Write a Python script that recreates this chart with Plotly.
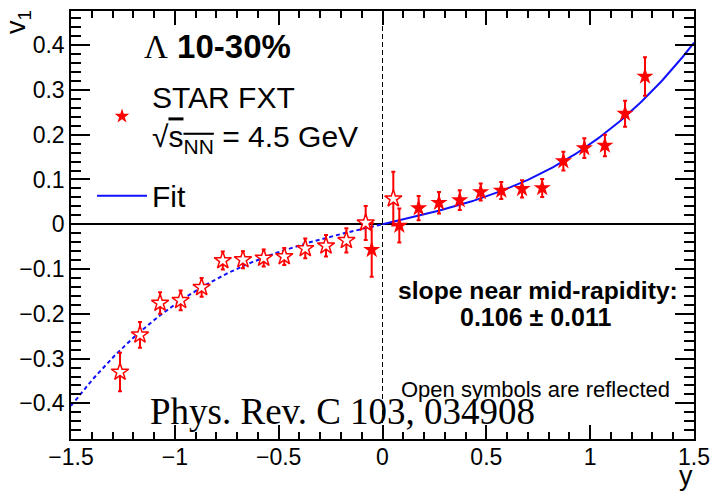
import numpy as np
import plotly.graph_objects as go

# ---- data ----
y_meas = [-0.052, 0.081, 0.174, 0.272, 0.372, 0.473, 0.572, 0.672, 0.769,
          0.871, 0.972, 1.071, 1.168, 1.264]
v1_meas = [-0.057, -0.003, 0.036, 0.048, 0.054, 0.072, 0.0755, 0.079, 0.081,
           0.141, 0.170, 0.176, 0.247, 0.330]
v1_err = [0.060, 0.038, 0.027, 0.024, 0.022, 0.019, 0.019, 0.019, 0.020,
          0.021, 0.022, 0.024, 0.029, 0.043]

# reflected ("open") symbols: y -> -y, v1 -> -v1
y_refl = [-v for v in y_meas]
v1_refl = [-v for v in v1_meas]

# fit: v1 = a*y + b*y^3
fit_a = 0.106
fit_b = 0.073
fit_y_neg = np.linspace(-1.5, 0.0, 151)
fit_y_pos = np.linspace(0.0, 1.5, 151)
fit_v_neg = fit_a * fit_y_neg + fit_b * fit_y_neg ** 3
fit_v_pos = fit_a * fit_y_pos + fit_b * fit_y_pos ** 3

x_ticks = [-1.5, -1, -0.5, 0, 0.5, 1, 1.5]
x_ticklabels = ["\u22121.5", "\u22121", "\u22120.5", "0", "0.5", "1", "1.5"]

FONT = "Liberation Sans, Arial, Helvetica, sans-serif"
RED = "#ff0000"
BLUE = "#1010ff"

# plot-area geometry in pixels
W, H = 721, 498
L, R, T, B = 71, 27, 9, 59
PW, PH = W - L - R, H - T - B


def px(xp):
    return (xp - L) / PW


def py(yp):
    return (H - B - yp) / PH


fig = go.Figure()

fig.add_trace(go.Scatter(
    x=fit_y_neg, y=fit_v_neg, mode="lines",
    line=dict(color=BLUE, width=2, dash="4px,3px"),
    showlegend=False, hoverinfo="skip"))
fig.add_trace(go.Scatter(
    x=fit_y_pos, y=fit_v_pos, mode="lines", name="Fit",
    line=dict(color=BLUE, width=2),
    legendgroup="fit", legendrank=2))

fig.add_trace(go.Scatter(
    x=y_refl, y=v1_refl, mode="markers",
    marker=dict(symbol="star", size=13, color="white",
                line=dict(color=RED, width=1.5)),
    error_y=dict(type="data", array=v1_err, color=RED, thickness=2, width=2),
    showlegend=False))
fig.add_trace(go.Scatter(
    x=y_meas, y=v1_meas, mode="markers",
    marker=dict(symbol="star", size=13, color=RED, line=dict(width=0)),
    error_y=dict(type="data", array=v1_err, color=RED, thickness=2, width=2),
    showlegend=False))

# legend entry for the data
fig.add_trace(go.Scatter(
    x=[None], y=[None], mode="markers",
    name="STAR FXT<br>\u221a<span style=\"text-decoration:overline\">s<sub>NN</sub></span> = 4.5 GeV",
    marker=dict(symbol="star", size=11, color=RED, line=dict(width=0)),
    legendgroup="data", legendrank=1))

axis_common = dict(
    showline=True, linecolor="black", linewidth=1.5, mirror="allticks",
    ticks="inside", tickcolor="black", tickwidth=1.5,
    showgrid=False,
    tickfont=dict(family=FONT, size=23, color="black"),
)

fig.update_layout(
    width=W, height=H,
    margin=dict(l=L, r=R, t=T, b=B),
    paper_bgcolor="white", plot_bgcolor="white",
    font=dict(family=FONT, color="black"),
    xaxis=dict(
        range=[-1.5, 1.5], tickvals=x_ticks, ticktext=x_ticklabels,
        ticklen=14, zeroline=False, ticklabelstandoff=-3,
        minor=dict(dtick=0.1, tick0=0, ticklen=7, ticks="inside",
                   tickcolor="black", tickwidth=1.5),
        **axis_common),
    yaxis=dict(
        range=[-0.4795, 0.4762], dtick=0.1, tick0=0, ticklen=19,
        zeroline=True, zerolinecolor="black", zerolinewidth=2,
        minor=dict(dtick=0.02, tick0=0, ticklen=10, ticks="inside",
                   tickcolor="black", tickwidth=1.5),
        **axis_common),
    legend=dict(
        x=px(92), y=py(69), xanchor="left", yanchor="top",
        bgcolor="rgba(0,0,0,0)", borderwidth=0,
        font=dict(family=FONT, size=30, color="black"),
        itemwidth=50, tracegroupgap=18, traceorder="grouped",
    ),
    shapes=[dict(type="line", xref="x", yref="paper", x0=0, x1=0, y0=0, y1=1,
                 line=dict(color="black", width=1, dash="5px,3px"),
                 layer="below")],
    annotations=[
        dict(text="<span style=\"font-family:'Liberation Serif';font-weight:normal\">\u039b</span><b> 10-30%</b>",
             x=px(142), y=py(45), xref="paper", yref="paper",
             xanchor="left", yanchor="middle", showarrow=False,
             font=dict(family=FONT, size=33, color="black")),
        dict(text="<b>slope near mid-rapidity:</b>",
             x=px(538), y=py(290), xref="paper", yref="paper",
             xanchor="center", yanchor="middle", showarrow=False,
             font=dict(family=FONT, size=24.7, color="black")),
        dict(text="<b>0.106 \u00b1 0.011</b>",
             x=px(535), y=py(316), xref="paper", yref="paper",
             xanchor="center", yanchor="middle", showarrow=False,
             font=dict(family=FONT, size=25, color="black")),
        dict(text="Open symbols are reflected",
             x=px(535), y=py(389), xref="paper", yref="paper",
             xanchor="center", yanchor="middle", showarrow=False,
             font=dict(family=FONT, size=22, color="black")),
        dict(text="Phys. Rev. C 103, 034908",
             x=px(342), y=py(411), xref="paper", yref="paper",
             xanchor="center", yanchor="middle", showarrow=False,
             font=dict(family="Liberation Serif, Times New Roman, serif",
                       size=37, color="black")),
        dict(text="v<sub>1</sub>", textangle=-90,
             x=px(18), y=py(20), xref="paper", yref="paper",
             xanchor="center", yanchor="middle", showarrow=False,
             font=dict(family=FONT, size=27, color="black")),
        dict(text="y",
             x=px(686), y=py(476), xref="paper", yref="paper",
             xanchor="center", yanchor="middle", showarrow=False,
             font=dict(family=FONT, size=27, color="black")),
    ],
)

fig.write_html("out.html")
